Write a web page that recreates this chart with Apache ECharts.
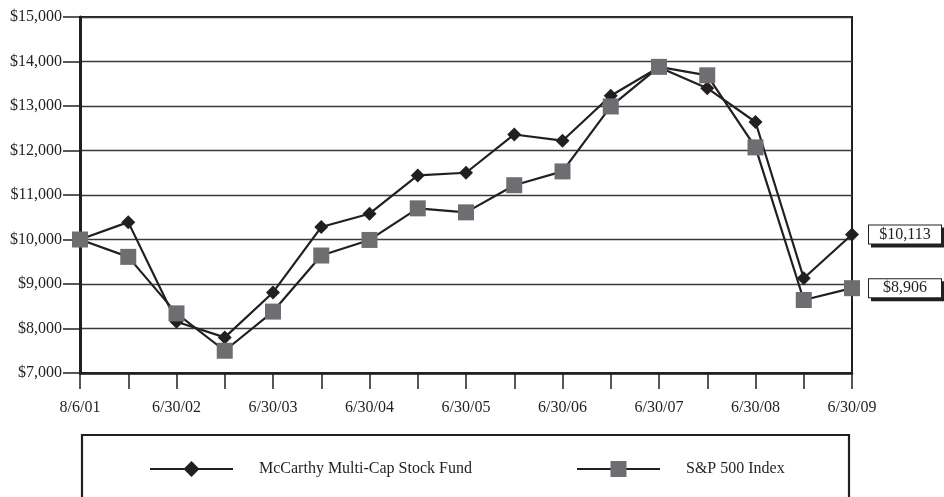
<!DOCTYPE html>
<html>
<head>
<meta charset="utf-8">
<script src="https://cdn.jsdelivr.net/npm/echarts@6/dist/echarts.min.js"></script>
<style>
  html, body { margin: 0; padding: 0; background: #ffffff; }
  #chart { width: 944px; height: 497px; }
</style>
</head>
<body>
<div id="chart"></div>
<script>
// Growth of a $10,000 investment, semi-annual observations
const categories = ['8/6/01', '12/31/01', '6/30/02', '12/31/02', '6/30/03', '12/31/03',
  '6/30/04', '12/31/04', '6/30/05', '12/31/05', '6/30/06', '12/31/06',
  '6/30/07', '12/31/07', '6/30/08', '12/31/08', '6/30/09'];
const fundName = 'McCarthy Multi-Cap Stock Fund';
const indexName = 'S&P 500 Index';
const fundValues = [10000, 10390, 8150, 7800, 8810, 10280, 10580, 11440, 11500,
  12360, 12220, 13230, 13870, 13400, 12640, 9130, 10113];
const indexValues = [10000, 9610, 8340, 7500, 8380, 9640, 9990, 10700, 10610,
  11220, 11530, 12990, 13880, 13690, 12070, 8640, 8906];
const yTicks = { min: 7000, max: 15000, step: 1000 };

const INK = '#231f20';
const FONT = '"Liberation Serif", "Times New Roman", serif';
const money = v => '$' + Math.round(v).toLocaleString('en-US');

// Tag the final observation with a boxed value label
function withEndLabel(values, distance) {
  const last = values.length - 1;
  return values.map((v, i) => i !== last ? v : {
    value: v,
    label: {
      show: true,
      position: 'right',
      distance: distance,
      formatter: p => '{v|' + money(p.value) + '}',
      rich: {
        v: { width: 52, align: 'center', fontFamily: FONT, fontSize: 16, lineHeight: 16, color: INK }
      },
      backgroundColor: '#ffffff',
      borderColor: INK,
      borderWidth: 1,
      padding: [1, 10, 1, 10],
      shadowColor: INK,
      shadowBlur: 0,
      shadowOffsetX: 3,
      shadowOffsetY: 3
    }
  });
}

const legendText = { fontFamily: FONT, fontSize: 16, color: INK, padding: [0, 0, 0, 21] };

const chart = echarts.init(document.getElementById('chart'), null, { renderer: 'canvas' });

chart.setOption({
  animation: false,
  backgroundColor: '#ffffff',
  grid: {
    left: 80, right: 92, top: 17, bottom: 124,
    show: true, borderColor: INK, borderWidth: 2, backgroundColor: 'transparent'
  },
  xAxis: {
    type: 'category',
    data: categories,
    boundaryGap: false,
    axisLine: { show: true, lineStyle: { color: INK, width: 2.5 } },
    axisTick: { show: true, interval: 0, length: 16, lineStyle: { color: INK, width: 1.5 } },
    axisLabel: { interval: 1, margin: 27, fontFamily: FONT, fontSize: 16, color: INK },
    splitLine: { show: false }
  },
  yAxis: {
    type: 'value',
    min: yTicks.min,
    max: yTicks.max,
    interval: yTicks.step,
    axisLine: { show: true, lineStyle: { color: INK, width: 3 } },
    axisTick: { show: true, length: 17, lineStyle: { color: INK, width: 1.5 } },
    axisLabel: { margin: 18, fontFamily: FONT, fontSize: 16, color: INK, formatter: money },
    splitLine: { show: true, lineStyle: { color: '#3a3a3a', width: 1.3 } }
  },
  legend: [
    {
      data: [fundName],
      left: 149, top: 461, padding: 0,
      itemWidth: 83, itemHeight: 20,
      textStyle: legendText
    },
    {
      data: [indexName],
      left: 576, top: 461, padding: 0,
      itemWidth: 83, itemHeight: 20,
      textStyle: legendText
    }
  ],
  graphic: [
    {
      type: 'rect',
      silent: true,
      shape: { x: 82, y: 435, width: 767, height: 90 },
      style: { fill: 'none', stroke: INK, lineWidth: 2.2 }
    }
  ],
  series: [
    {
      name: fundName,
      type: 'line',
      data: withEndLabel(fundValues, 10),
      symbol: 'diamond',
      symbolSize: 14,
      showAllSymbol: true,
      lineStyle: { color: INK, width: 2.2 },
      itemStyle: { color: INK, borderWidth: 0 },
      z: 2
    },
    {
      name: indexName,
      type: 'line',
      data: withEndLabel(indexValues, 9),
      symbol: 'rect',
      symbolSize: 16,
      showAllSymbol: true,
      lineStyle: { color: INK, width: 2.2 },
      itemStyle: { color: '#6d6e71', borderWidth: 0 },
      z: 3
    }
  ]
});
</script>
</body>
</html>
